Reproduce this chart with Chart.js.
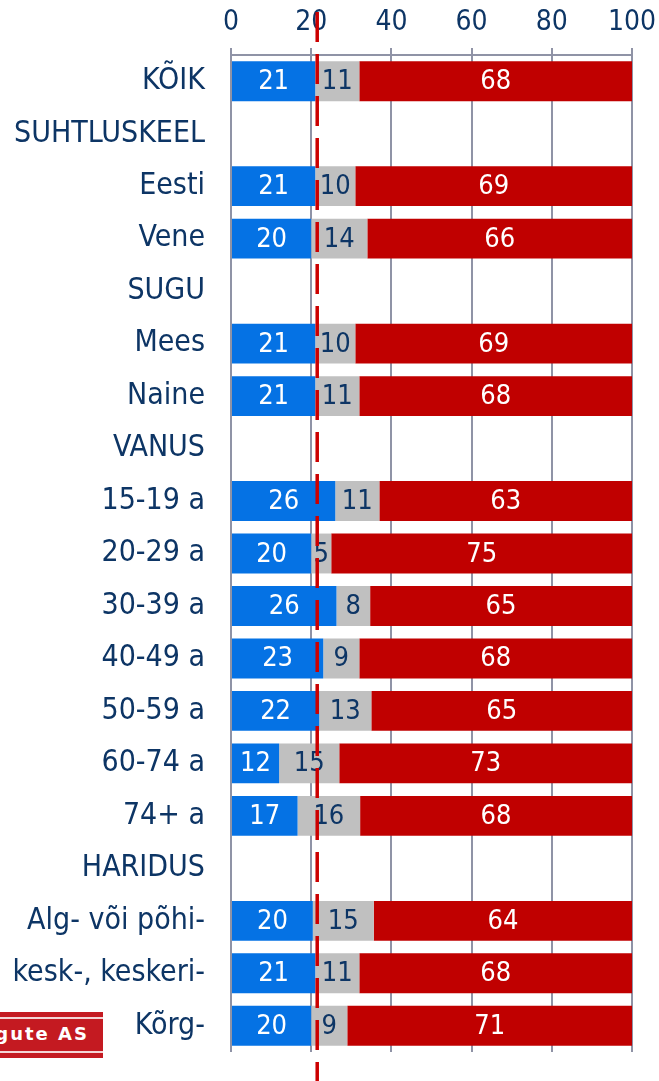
<!DOCTYPE html>
<html>
<head>
<meta charset="utf-8">
<script src="https://cdn.jsdelivr.net/npm/chart.js@4/dist/chart.umd.min.js"></script>
<style>
  html, body { margin: 0; padding: 0; background: #ffffff; }
  #wrap { position: relative; width: 659px; height: 1081px; overflow: hidden; }
  #c { position: absolute; left: 0; top: 0; }
  #logo {
    position: absolute; left: 0; top: 1012px; width: 103px; height: 46px;
    background: #c41a21; overflow: hidden;
  }
  #logo .l1 { position: absolute; left: 0; right: 0; top: 5px; height: 2px; background: #f4d4d5; }
  #logo .l2 { position: absolute; left: 0; right: 0; top: 39px; height: 2px; background: #f4d4d5; }
  #logo .t {
    position: absolute; right: 14px; top: 11px; white-space: nowrap;
    font: bold 18px "DejaVu Sans", sans-serif; letter-spacing: 2px; color: #ffffff;
  }
</style>
</head>
<body>
<div id="wrap">
  <canvas id="c" width="659" height="1081"></canvas>
  <div id="logo"><div class="l1"></div><div class="l2"></div><div class="t">Turu-uuringute AS</div></div>
</div>
<script>
// ---- data ----
const categories = ["KÕIK", "SUHTLUSKEEL", "Eesti", "Vene", "SUGU", "Mees", "Naine", "VANUS",
  "15-19 a", "20-29 a", "30-39 a", "40-49 a", "50-59 a", "60-74 a", "74+ a", "HARIDUS",
  "Alg- või põhi-", "kesk-, keskeri-", "Kõrg-"];
const seriesBlue = [21, null, 21, 20, null, 21, 21, null, 26, 20, 26.3, 23, 22, 12, 16.6, null, 20.4, 21, 20];
const seriesGray = [11, null, 10, 14, null, 10, 11, null, 11, 5, 8.4, 9, 13, 15, 15.6, null, 15.2, 11, 9];
const seriesRed  = [68, null, 69, 66, null, 69, 68, null, 63, 75, 65.3, 68, 65, 73, 67.8, null, 64.4, 68, 71];
const xTicks = [0, 20, 40, 60, 80, 100];
const referenceValue = 21.5;

const navy = "#0d3565";
const gridGray = "#8f93a6";
const condensed = '"DejaVu Sans Condensed", "DejaVu Sans", sans-serif';

const valueLabels = {
  id: "valueLabels",
  afterDatasetsDraw(chart) {
    const ctx = chart.ctx;
    ctx.save();
    ctx.font = "27px " + condensed;
    ctx.textAlign = "center";
    ctx.textBaseline = "middle";
    chart.data.datasets.forEach((ds, i) => {
      const meta = chart.getDatasetMeta(i);
      meta.data.forEach((bar, j) => {
        const v = ds.data[j];
        if (v === null || v === undefined) return;
        ctx.fillStyle = ds.labelColor;
        ctx.fillText(String(Math.round(v)), (bar.x + bar.base) / 2, bar.y + 1);
      });
    });
    ctx.restore();
  }
};

const refLine = {
  id: "refLine",
  afterDraw(chart) {
    const ctx = chart.ctx;
    const x = chart.scales.x.getPixelForValue(referenceValue);
    ctx.save();
    ctx.strokeStyle = "#cc0000";
    ctx.lineWidth = 3.5;
    ctx.setLineDash([30, 12]);
    ctx.beginPath();
    ctx.moveTo(x, 12);
    ctx.lineTo(x, chart.height);
    ctx.stroke();
    ctx.restore();
  }
};

new Chart(document.getElementById("c"), {
  type: "bar",
  data: {
    labels: categories,
    datasets: [
      { data: seriesBlue, backgroundColor: "#0572e4", labelColor: "#ffffff" },
      { data: seriesGray, backgroundColor: "#c0c0c0", labelColor: navy },
      { data: seriesRed,  backgroundColor: "#c00000", labelColor: "#ffffff" }
    ]
  },
  options: {
    indexAxis: "y",
    responsive: false,
    animation: false,
    events: [],
    barPercentage: 0.76,
    categoryPercentage: 1.0,
    layout: { padding: { top: 0, left: 0, right: 27, bottom: 29 } },
    plugins: { legend: { display: false }, tooltip: { enabled: false } },
    scales: {
      x: {
        position: "top",
        stacked: true,
        min: 0, max: 100,
        afterBuildTicks(scale) { scale.ticks = xTicks.map(v => ({ value: v })); },
        afterFit(scale) {
          scale.height = 55;
          scale.paddingLeft = 0; scale.paddingRight = 0;
        },
        ticks: { color: navy, font: { family: condensed, size: 28 }, padding: 8, maxRotation: 0 },
        grid: { color: gridGray, lineWidth: 2, tickLength: 7, drawTicks: true },
        border: { color: gridGray, width: 2 }
      },
      y: {
        stacked: true,
        afterFit(scale) {
          scale.width = 231;
          scale.paddingTop = 0; scale.paddingBottom = 0;
        },
        ticks: { color: navy, font: { family: condensed, size: 30 }, padding: 18, autoSkip: false },
        grid: { display: false },
        border: { display: false }
      }
    }
  },
  plugins: [valueLabels, refLine]
});
</script>
</body>
</html>
